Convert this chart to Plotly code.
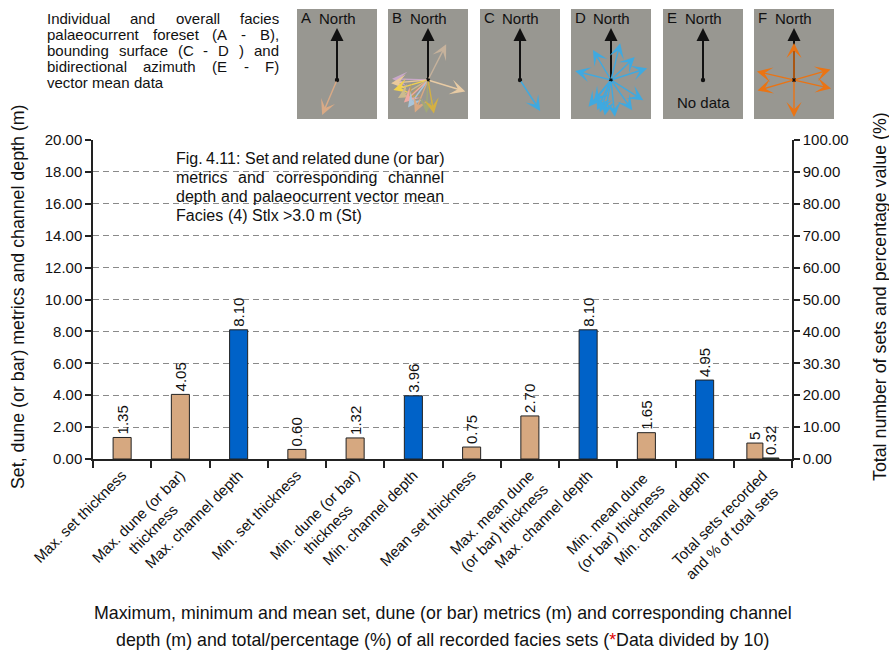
import math
import plotly.graph_objects as go

FONT = "Liberation Sans, Arial, sans-serif"
INK = "#111111"

# ---------------------------------------------------------------- chart data
category_labels = [
    "Max. set thickness",
    "Max. dune (or bar)|thickness",
    "Max. channel depth",
    "Min. set thickness",
    "Min. dune (or bar)|thickness",
    "Min. channel depth",
    "Mean set thickness",
    "Max. mean dune|(or bar) thickness",
    "Max. channel depth",
    "Min. mean dune|(or bar) thickness",
    "Min. channel depth",
    "Total sets recorded|and % of total sets",
]
metric_values = [1.35, 4.05, 8.10, 0.60, 1.32, 3.96, 0.75, 2.70, 8.10, 1.65, 4.95]
metric_kinds = ["set", "dune", "channel", "set", "dune", "channel",
                "set", "dune", "channel", "dune", "channel"]
total_sets = 5
percent_of_total = 0.32

left_tick_values = [0, 2, 4, 6, 8, 10, 12, 14, 16, 18, 20]
right_tick_values = [0, 10, 20, 30, 40, 50, 60, 70, 80, 90, 100]
right_tick_labels = ["0.00", "10.00", "20.00", "30.30", "40.00", "50.00",
                     "60.00", "70.00", "80.00", "90.00", "100.00"]

# palaeocurrent vector means: (azimuth in degrees, vector length)
foreset_a = [(203, 38)]
foreset_b = [(27, 40), (107, 39), (272, 36), (265, 37), (254, 36), (239, 35),
             (230, 30), (227, 33), (216, 34), (202, 35), (183, 33), (170, 34)]
bounding_c = [(147, 37)]
bounding_d = [(329, 35), (14, 38), (46, 33), (72, 38), (284, 37), (122, 38),
              (145, 37), (174, 37), (190, 36), (205, 33), (220, 35), (199, 34),
              (218, 28)]
bidirectional_e = []
bidirectional_f = [(0, 37), (180, 37), (74, 38), (254, 38), (103, 38), (283, 38)]

panel_letters = ["A", "B", "C", "D", "E", "F"]
panel_vectors = [foreset_a, foreset_b, bounding_c, bounding_d,
                 bidirectional_e, bidirectional_f]

# ---------------------------------------------------------------- styling
KIND_COLOURS = {"set": "#D6A880", "dune": "#D6A880", "channel": "#0062C8"}
TOTAL_COLOUR = "#D6A880"
PERCENT_COLOUR = "#2E5B3A"
B_COLOURS = ["#C6B29C", "#E8CBA4", "#C8A8C8", "#EAC99C", "#F2D24C", "#CDBB8E",
             "#B89E5E", "#EFA9A2", "#A9C5DA", "#D9A982", "#A0A878", "#D4B042"]
PANEL_STYLE = {
    "A": dict(colours=["#D9AA86"]),
    "B": dict(colours=B_COLOURS),
    "C": dict(colours=["#3FA9E0"]),
    "D": dict(colours=["#3FA9E0"] * 13),
    "E": dict(colours=[]),
    "F": dict(colours=["#EA7414"] * 6),
}

W, H = 889, 651
ML, MT, MR, MB = 93, 140, 97, 192
PW, PH = W - ML - MR, H - MT - MB


def px(x):
    return (x - ML) / PW


def py(y):
    return (MT + PH - y) / PH


HELV = {" ": 278, "(": 333, ")": 333, ",": 278, "-": 333, ".": 278, ":": 278,
        ">": 584, "%": 889, "*": 389, "/": 278,
        "A": 667, "B": 667, "C": 722, "D": 722, "E": 667, "F": 611, "I": 278,
        "M": 833, "N": 722, "S": 667, "T": 611,
        "a": 556, "b": 556, "c": 500, "d": 556, "e": 556, "f": 278, "g": 556,
        "h": 556, "i": 222, "j": 222, "k": 500, "l": 222, "m": 833, "n": 556,
        "o": 556, "p": 556, "q": 556, "r": 333, "s": 500, "t": 278, "u": 556,
        "v": 500, "w": 722, "x": 500, "y": 500, "z": 500}


def text_width(s, size):
    return sum(HELV.get(ch, 556) for ch in s) * size / 1000.0


def justified_line(line, x0, x1, y, size, spread=True):
    words = line.split(" ")
    widths = [text_width(w, size) for w in words]
    if spread and len(words) > 1:
        gap = (x1 - x0 - sum(widths)) / (len(words) - 1)
    else:
        gap = text_width(" ", size)
    items, x = [], x0
    for word, wd in zip(words, widths):
        items.append(dict(text=word, x=px(x), y=py(y), xref="paper", yref="paper",
                          xanchor="left", yanchor="middle", showarrow=False,
                          font=dict(family=FONT, size=size, color=INK)))
        x += wd + gap
    return items


def centred_tick(label, size):
    lines = label.split("|")
    if len(lines) == 1:
        return lines[0]
    w = [text_width(s, size) for s in lines]
    space = text_width(" ", size)
    short = 0 if w[0] < w[1] else 1
    pad = int(round(abs(w[0] - w[1]) / 2 / space))
    lines[short] = lines[short] + "\u00a0" * pad
    return "<br>".join(lines)


def vector(cx, cy, az, length, colour, width=1.4, head=3, size=1.8):
    r = math.radians(az)
    tx = cx + length * math.sin(r)
    ty = cy - length * math.cos(r)
    return dict(x=px(tx), y=py(ty), xref="paper", yref="paper",
                ax=cx - tx, ay=cy - ty, axref="pixel", ayref="pixel",
                text="", showarrow=True, arrowhead=head, arrowsize=size,
                arrowwidth=width, arrowcolor=colour, standoff=0, startstandoff=0)


# ---------------------------------------------------------------- bars
TICK_SIZE = 15
LABEL_SIZE = 15
fig = go.Figure()
fig.add_trace(go.Bar(
    x=list(range(len(metric_values))), y=metric_values, width=0.31,
    marker=dict(color=[KIND_COLOURS[k] for k in metric_kinds],
                line=dict(color="#222222", width=1)),
    text=[f"{v:.2f}" for v in metric_values], textposition="outside",
    textangle=-90, textfont=dict(family=FONT, size=LABEL_SIZE, color=INK),
    cliponaxis=False, constraintext="none", showlegend=False, hoverinfo="skip"))
last = len(category_labels) - 1
fig.add_trace(go.Bar(
    x=[last - 0.1375], y=[total_sets], width=0.275, yaxis="y2",
    marker=dict(color=TOTAL_COLOUR, line=dict(color="#222222", width=1)),
    text=[f"{total_sets}"], textposition="outside", textangle=-90,
    textfont=dict(family=FONT, size=LABEL_SIZE, color=INK), cliponaxis=False,
    constraintext="none", showlegend=False, hoverinfo="skip"))
fig.add_trace(go.Bar(
    x=[last + 0.1375], y=[percent_of_total], width=0.275, yaxis="y2",
    marker=dict(color=PERCENT_COLOUR, line=dict(color="#222222", width=1)),
    text=[f"{percent_of_total:.2f}"], textposition="outside", textangle=-90,
    textfont=dict(family=FONT, size=LABEL_SIZE, color=INK), cliponaxis=False,
    constraintext="none", showlegend=False, hoverinfo="skip"))

annotations = []
shapes = []

# ---------------------------------------------------------------- palaeocurrent panels
PANEL_X0 = [297, 388, 480, 571, 663, 754]
PANEL_W, PANEL_Y0, PANEL_Y1 = 80, 9, 119
CENTRE_Y = 80
for letter, x0, vecs in zip(panel_letters, PANEL_X0, panel_vectors):
    cx = x0 + PANEL_W / 2
    shapes.append(dict(type="rect", xref="paper", yref="paper", x0=px(x0), x1=px(x0 + PANEL_W),
                       y0=py(PANEL_Y1), y1=py(PANEL_Y0), fillcolor="#989791",
                       line=dict(width=0), layer="below"))
    annotations.append(dict(text=letter, x=px(x0 + 2), y=py(17), xref="paper", yref="paper",
                            xanchor="left", yanchor="middle", showarrow=False,
                            font=dict(family=FONT, size=15, color=INK)))
    annotations.append(dict(text="North", x=px(cx), y=py(18), xref="paper", yref="paper",
                            xanchor="center", yanchor="middle", showarrow=False,
                            font=dict(family=FONT, size=15, color=INK)))
    # north arrow
    annotations.append(vector(cx, CENTRE_Y, 0, 52, "#111111", width=2, head=2, size=1.3))
    for (az, ln), colour in zip(vecs, PANEL_STYLE[letter]["colours"]):
        annotations.append(vector(cx, CENTRE_Y, az, ln, colour))
    if not vecs and letter == "E":
        annotations.append(dict(text="No data", x=px(cx), y=py(103), xref="paper", yref="paper",
                                xanchor="center", yanchor="middle", showarrow=False,
                                font=dict(family=FONT, size=15, color=INK)))
    shapes.append(dict(type="circle", xref="paper", yref="paper", xsizemode="pixel",
                       ysizemode="pixel", xanchor=px(cx), yanchor=py(CENTRE_Y),
                       x0=-2.2, x1=2.2, y0=-2.2, y1=2.2, fillcolor="#111111",
                       line=dict(width=0)))

# ---------------------------------------------------------------- text blocks
intro_lines = ["Individual and overall facies",
               "palaeocurrent foreset (A - B),",
               "bounding surface (C - D ) and",
               "bidirectional azimuth (E - F)",
               "vector mean data"]
for i, line in enumerate(intro_lines):
    annotations += justified_line(line, 45, 277, 18 + 16.2 * i, 15,
                                  spread=i < len(intro_lines) - 1)

caption_lines = ["Fig. 4.11: Set and related dune (or bar)",
                 "metrics and corresponding channel",
                 "depth and palaeocurrent vector mean",
                 "Facies (4) Stlx >3.0 m (St)"]
for i, line in enumerate(caption_lines):
    annotations += justified_line(line, 174, 442, 158 + 19 * i, 16,
                                  spread=i < len(caption_lines) - 1)

x_title_lines = [
    "Maximum, minimum and mean set, dune (or bar) metrics (m) and corresponding channel",
    "depth (m) and total/percentage (%) of all recorded facies sets "
    "(<span style='color:#E00000'>*</span>Data divided by 10)",
]
for i, line in enumerate(x_title_lines):
    annotations.append(dict(
        text=line, x=0.5, y=py(613 + 27 * i), xref="paper", yref="paper",
        xanchor="center", yanchor="middle", showarrow=False,
        font=dict(family=FONT, size=17.8, color=INK)))
annotations.append(dict(
    text="Set, dune (or bar) metrics and channel depth (m)", textangle=-90,
    x=px(18), y=py(297), xref="paper", yref="paper", xanchor="center", yanchor="middle",
    showarrow=False, font=dict(family=FONT, size=17.8, color=INK)))
annotations.append(dict(
    text="Total number of sets and percentage value (%)", textangle=-90,
    x=px(880), y=py(297), xref="paper", yref="paper", xanchor="center", yanchor="middle",
    showarrow=False, font=dict(family=FONT, size=17.8, color=INK)))

# ---------------------------------------------------------------- layout
fig.update_layout(
    width=W, height=H, margin=dict(l=ML, r=MR, t=MT, b=MB, autoexpand=False),
    paper_bgcolor="white", plot_bgcolor="white", barmode="overlay",
    font=dict(family=FONT, color=INK), showlegend=False,
    xaxis=dict(range=[-0.5, last + 0.5], tickmode="array",
               tickvals=list(range(len(category_labels))),
               ticktext=[centred_tick(c, TICK_SIZE) for c in category_labels],
               tickangle=-45, ticks="", tickfont=dict(family=FONT, size=TICK_SIZE, color=INK),
               showline=True, linecolor="#222222", linewidth=1.5, showgrid=False,
               zeroline=False,
               minor=dict(tickmode="array",
                          tickvals=[i - 0.5 for i in range(len(category_labels) + 1)],
                          ticks="outside", ticklen=7, tickwidth=1.5, tickcolor="#222222",
                          showgrid=False)),
    yaxis=dict(range=[0, 20], tickmode="array", tickvals=left_tick_values,
               tickformat=".2f", ticks="outside", ticklen=6, tickwidth=1.5,
               tickcolor="#222222", tickfont=dict(family=FONT, size=15, color=INK),
               showline=True, linecolor="#222222", linewidth=1.5,
               showgrid=True, gridcolor="#8A8A8A", gridwidth=1, griddash="6px,4px",
               zeroline=False),
    yaxis2=dict(range=[0, 100], overlaying="y", side="right", tickmode="array",
                tickvals=right_tick_values, ticktext=right_tick_labels,
                ticks="outside", ticklen=6, tickwidth=1.5, tickcolor="#222222",
                tickfont=dict(family=FONT, size=15, color=INK),
                showline=True, linecolor="#222222", linewidth=1.5,
                showgrid=False, zeroline=False),
    annotations=annotations, shapes=shapes,
)

fig.write_html("out.html")
